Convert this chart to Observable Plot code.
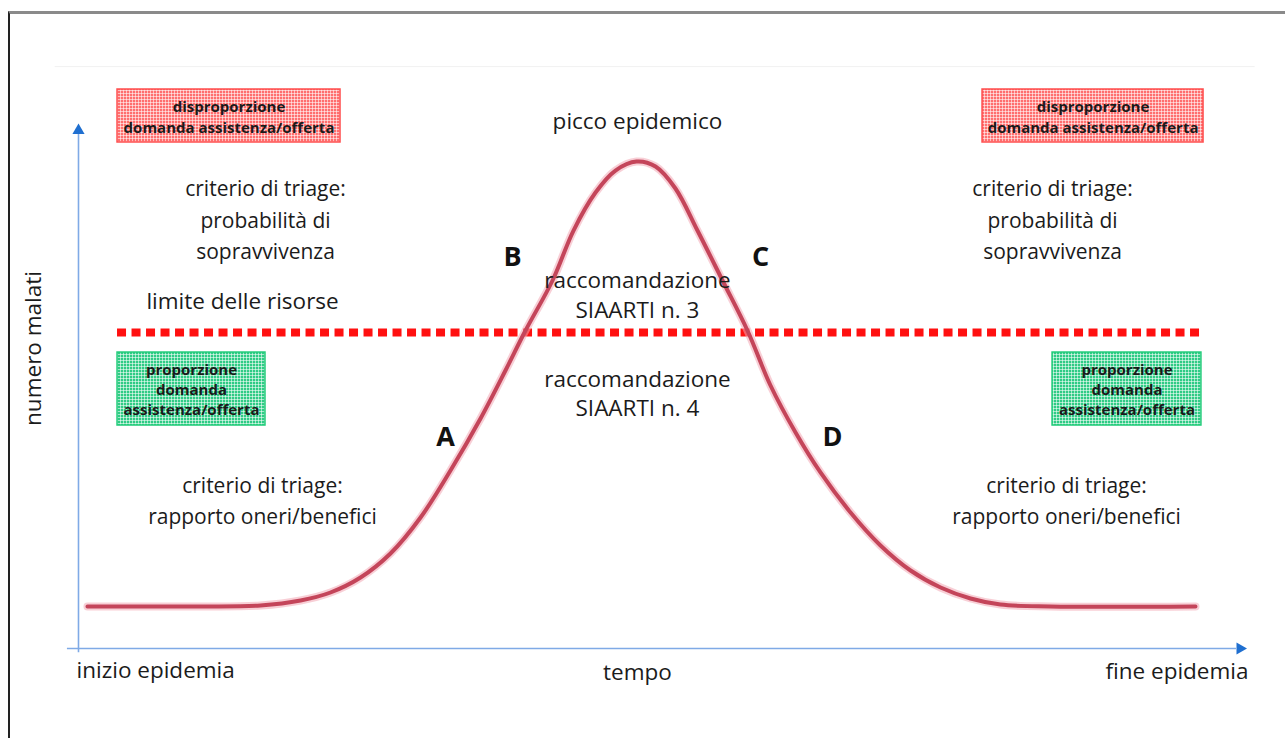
<!DOCTYPE html>
<html>
<head>
<meta charset="utf-8">
<script src="https://cdn.jsdelivr.net/npm/d3@7"></script>
<script src="https://cdn.jsdelivr.net/npm/@observablehq/plot@0.6"></script>
<style>
  html, body { margin: 0; padding: 0; background: #fff; }
  #wrap { position: relative; width: 1285px; height: 738px; overflow: hidden; }
  #frame { position: absolute; left: 8px; top: 11px; right: -10px; bottom: -10px;
           border-top: 3px solid #8a8a8a; border-left: 2px solid #222; pointer-events: none; }
  svg { display: block; }
</style>
</head>
<body>
<div id="wrap"><div id="frame"></div></div>
<script>
// Curve: tempo (0 = inizio, 100 = fine epidemia) vs numero malati (0-100)
const tempo  = [0.77, 10.47, 15.62, 19.06, 21.63, 24.21, 26.78, 29.36, 31.93, 34.51, 36.65, 38.37, 40.69, 42.49, 44.38, 46.09, 47.90, 49.53, 51.24, 53.13, 55.28, 57.42, 59.40, 61.55, 63.69, 66.27, 68.84, 71.42, 74.00, 76.57, 79.14, 83.43, 95.88];
const malati = [8.08, 8.08, 8.27, 9.23, 10.77, 13.65, 18.27, 25.19, 34.23, 44.23, 53.46, 61.15, 70.77, 80.38, 87.69, 91.92, 93.65, 92.69, 88.46, 80.38, 70.77, 61.15, 50.58, 41.54, 33.85, 26.15, 19.81, 15.00, 11.73, 9.62, 8.46, 8.08, 8.08];
const limiteRisorse = 60.77;
const limiteX = [3.35, 96.5];

// Boxes
const boxRossiX1 = [3.35, 77.6], boxRossiX2 = [22.49, 96.57], boxRossiY1 = [97.31, 97.31], boxRossiY2 = [107.5, 107.5];
const boxVerdiX1 = [3.35, 83.61], boxVerdiX2 = [16.05, 96.39], boxVerdiY1 = [42.88, 42.88], boxVerdiY2 = [56.92, 56.92];
const testoRosso = "disproporzione\ndomanda assistenza/offerta";
const testoVerde = "proporzione\ndomanda\nassistenza/offerta";

// Text labels
const titoli = [
  {x: 47.98, y: 101.75, t: "picco epidemico"},
  {x: 14.08, y: 67.1, t: "limite delle risorse"},
  {x: 47.98, y: 68.3, t: "raccomandazione\nSIAARTI n. 3"},
  {x: 47.98, y: 49.35, t: "raccomandazione\nSIAARTI n. 4"},
  {x: 47.98, y: -4.2, t: "tempo"}
];
const criteri = [
  {x: 16.05, y: 82.9, t: "criterio di triage:\nprobabilità di\nsopravvivenza"},
  {x: 83.61, y: 82.9, t: "criterio di triage:\nprobabilità di\nsopravvivenza"},
  {x: 15.79, y: 28.85, t: "criterio di triage:\nrapporto oneri/benefici"},
  {x: 84.81, y: 28.85, t: "criterio di triage:\nrapporto oneri/benefici"}
];
const lettere = [
  {x: 37.25, y: 75.19, t: "B"}, {x: 58.54, y: 75.19, t: "C"},
  {x: 31.50, y: 40.58, t: "A"}, {x: 64.72, y: 40.58, t: "D"}
];

const curva = tempo.map((t, i) => ({t, m: malati[i]}));
const rossi = boxRossiX1.map((v, i) => ({x1: v, x2: boxRossiX2[i], y1: boxRossiY1[i], y2: boxRossiY2[i]}));
const verdi = boxVerdiX1.map((v, i) => ({x1: v, x2: boxVerdiX2[i], y1: boxVerdiY1[i], y2: boxVerdiY2[i]}));
const font = "'Open Sans', Lato, sans-serif";
const axisCol = "#7faae6", arrowCol = "#1f6fd0", ink = "#1b1b1b";

const chart = Plot.plot({
  width: 1285, height: 738, margin: 0,
  x: {domain: [0, 100], range: [78, 1243], axis: null},
  y: {domain: [0, 100], range: [648, 128], axis: null},
  style: {fontFamily: font, background: "transparent"},
  marks: [
    Plot.ruleY([111.9], {x1: -2, x2: 101, stroke: "#f1f1f1", strokeWidth: 1}),
    // axes
    Plot.ruleX([0], {y1: -0.8, y2: 99, stroke: axisCol, strokeWidth: 1.6}),
    Plot.ruleY([0], {x1: -0.95, x2: 99.4, stroke: axisCol, strokeWidth: 1.6}),
    Plot.dot([{x: 0, y: 99.6}], {x: "x", y: "y", symbol: "triangle", r: 4.5, fill: arrowCol, stroke: "none"}),
    Plot.dot([{x: 99.7, y: 0}], {x: "x", y: "y", symbol: "triangle", r: 4.5, fill: arrowCol, stroke: "none", rotate: 90}),
    // boxes
    Plot.rect(rossi, {x1: "x1", x2: "x2", y1: "y1", y2: "y2", fill: "url(#pRed)", stroke: "#ff4d4d", strokeWidth: 1.5}),
    Plot.rect(verdi, {x1: "x1", x2: "x2", y1: "y1", y2: "y2", fill: "url(#pGreen)", stroke: "#22cc7a", strokeWidth: 1.5}),
    Plot.text(rossi, {x: d => (d.x1 + d.x2) / 2, y: d => (d.y1 + d.y2) / 2, text: () => testoRosso, fontSize: 15, fontWeight: "bold", lineHeight: 1.4, fill: "#1a1a1a"}),
    Plot.text(verdi, {x: d => (d.x1 + d.x2) / 2, y: d => (d.y1 + d.y2) / 2, text: () => testoVerde, fontSize: 15, fontWeight: "bold", lineHeight: 1.33, fill: "#1a1a1a"}),
    // resource limit
    Plot.ruleY([limiteRisorse], {x1: limiteX[0], x2: limiteX[1], stroke: "#ff1010", strokeWidth: 8, strokeDasharray: "9,5.5"}),
    // epidemic curve
    Plot.line(curva, {x: "t", y: "m", curve: "catmull-rom", stroke: "#f3a7b4", strokeWidth: 8, strokeOpacity: 0.55}),
    Plot.line(curva, {x: "t", y: "m", curve: "catmull-rom", stroke: "#c4455a", strokeWidth: 4}),
    // labels
    Plot.text(titoli, {x: "x", y: "y", text: "t", fontSize: 22.5, lineHeight: 1.33, fill: ink}),
    Plot.text(criteri, {x: "x", y: "y", text: "t", fontSize: 21, lineHeight: 1.5, fill: ink}),
    Plot.text(lettere, {x: "x", y: "y", text: "t", fontSize: 27, fontWeight: "bold", fill: "#111"}),
    Plot.text(["inizio epidemia"], {x: -0.17, y: -4.3, text: d => d, textAnchor: "start", fontSize: 22.5, fill: ink}),
    Plot.text(["fine epidemia"], {x: 100.43, y: -4.4, text: d => d, textAnchor: "end", fontSize: 22.5, fill: ink}),
    Plot.text(["numero malati"], {x: -3.86, y: 57.69, text: d => d, rotate: -90, fontSize: 22.5, fill: ink})
  ]
});

// grid-textured fills for the boxes
const svg = d3.select(chart);
const defs = svg.insert("defs", ":first-child");
function pattern(id, base) {
  const p = defs.append("pattern").attr("id", id).attr("patternUnits", "userSpaceOnUse").attr("width", 3).attr("height", 3);
  p.append("rect").attr("width", 3).attr("height", 3).attr("fill", base);
  p.append("path").attr("d", "M0 0.5H3M0.5 0V3").attr("stroke", "#fff").attr("stroke-width", 1).attr("stroke-opacity", 0.55);
}
pattern("pRed", "#ff6e6e");
pattern("pGreen", "#2fcb85");

document.getElementById("wrap").prepend(chart);
</script>
</body>
</html>
